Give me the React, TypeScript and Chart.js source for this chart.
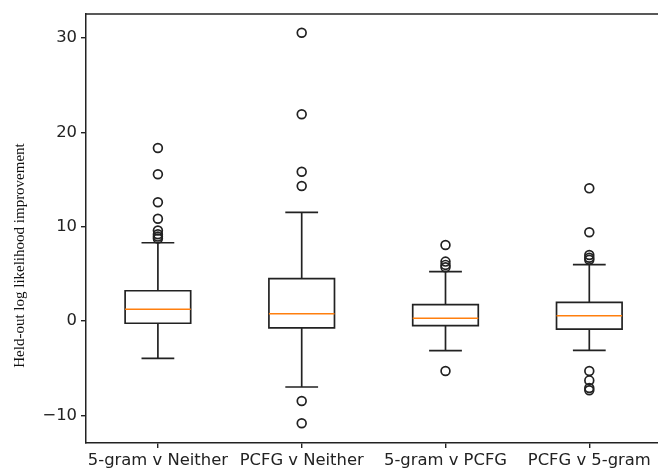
import React, { useEffect, useRef } from 'react';
import { Chart, registerables } from 'chart.js';

Chart.register(...registerables);

const categories = ['5-gram v Neither', 'PCFG v Neither', '5-gram v PCFG', 'PCFG v 5-gram'];
const positions = [1, 2, 3, 4];
const whiskerLow = [-3.96, -7.0, -3.15, -3.12];
const q1 = [-0.24, -0.73, -0.5, -0.86];
const medians = [1.24, 0.77, 0.29, 0.55];
const q3 = [3.21, 4.49, 1.73, 1.98];
const whiskerHigh = [8.3, 11.53, 5.23, 5.98];
const outliers1 = [18.35, 15.56, 12.59, 10.85, 9.6, 9.2, 8.95, 8.75];
const outliers2 = [30.57, 21.92, 15.83, 14.32, -8.48, -10.85];
const outliers3 = [8.06, 6.3, 5.95, 5.7, -5.3];
const outliers4 = [14.07, 9.41, 7.0, 6.7, 6.5, -5.3, -6.3, -7.1, -7.35];
const yTicks = [-10, 0, 10, 20, 30];
const yMin = -12.94;
const yMax = 32.56;
const yTitle = 'Held-out log likelihood improvement';

const allOutliers = [outliers1, outliers2, outliers3, outliers4];

const LINE = '#222222';

const boxPlugin = {
  id: 'boxDraw',
  beforeDatasetsDraw(chart: any) {
    const { ctx, chartArea, scales } = chart;
    const x = scales.x;
    const y = scales.y;
    ctx.save();
    ctx.beginPath();
    ctx.rect(chartArea.left, chartArea.top, chartArea.right - chartArea.left, chartArea.bottom - chartArea.top);
    ctx.clip();
    ctx.lineWidth = 1.7;
    for (let i = 0; i < positions.length; i++) {
      const cx = x.getPixelForValue(positions[i]);
      const hw = x.getPixelForValue(positions[i] + 0.228) - cx;
      const cw = hw / 2;
      const yq1 = y.getPixelForValue(q1[i]);
      const yq3 = y.getPixelForValue(q3[i]);
      const ymed = y.getPixelForValue(medians[i]);
      const ylo = y.getPixelForValue(whiskerLow[i]);
      const yhi = y.getPixelForValue(whiskerHigh[i]);
      ctx.strokeStyle = LINE;
      ctx.beginPath();
      ctx.rect(cx - hw, yq3, 2 * hw, yq1 - yq3);
      ctx.stroke();
      ctx.beginPath();
      ctx.moveTo(cx, yq1);
      ctx.lineTo(cx, ylo);
      ctx.moveTo(cx, yq3);
      ctx.lineTo(cx, yhi);
      ctx.moveTo(cx - cw, ylo);
      ctx.lineTo(cx + cw, ylo);
      ctx.moveTo(cx - cw, yhi);
      ctx.lineTo(cx + cw, yhi);
      ctx.stroke();
      ctx.strokeStyle = '#ff7f0e';
      ctx.lineWidth = 1.6;
      ctx.beginPath();
      ctx.moveTo(cx - hw, ymed);
      ctx.lineTo(cx + hw, ymed);
      ctx.stroke();
      ctx.lineWidth = 1.7;
    }
    ctx.restore();
  },
  afterDraw(chart: any) {
    const { ctx, chartArea } = chart;
    ctx.save();
    ctx.strokeStyle = LINE;
    ctx.lineWidth = 1.5;
    ctx.beginPath();
    ctx.moveTo(chartArea.left, chartArea.top);
    ctx.lineTo(chartArea.right, chartArea.top);
    ctx.stroke();
    // y-axis title
    const cy = (chartArea.top + chartArea.bottom) / 2 + 27;
    ctx.translate(20, cy);
    ctx.rotate(-Math.PI / 2);
    ctx.fillStyle = '#111';
    ctx.font = '15px "Liberation Serif", serif';
    ctx.textAlign = 'center';
    ctx.textBaseline = 'middle';
    ctx.fillText(yTitle, 0, 0);
    ctx.restore();
  },
};

export default function App() {
  const ref = useRef<HTMLCanvasElement | null>(null);
  useEffect(() => {
    if (!ref.current) return;
    const points: { x: number; y: number }[] = [];
    allOutliers.forEach((arr, i) => arr.forEach((v) => points.push({ x: positions[i], y: v })));
    const chart = new Chart(ref.current, {
      type: 'scatter',
      data: {
        datasets: [
          {
            label: 'fliers',
            data: points,
            pointRadius: 4.4,
            pointHoverRadius: 4.4,
            pointBorderWidth: 1.7,
            borderColor: LINE,
            backgroundColor: 'rgba(0,0,0,0)',
            pointStyle: 'circle',
          },
        ],
      },
      options: {
        animation: false,
        responsive: true,
        maintainAspectRatio: false,
        layout: { padding: { top: 14, left: 0, right: 38.8, bottom: 0 } },
        plugins: { legend: { display: false }, tooltip: { enabled: false } },
        events: [],
        scales: {
          x: {
            type: 'linear',
            min: 0.5,
            max: 4.5,
            afterBuildTicks: (s: any) => {
              s.ticks = positions.map((v) => ({ value: v }));
            },
            afterFit: (s: any) => {
              s.height = 29;
            },
            ticks: {
              autoSkip: false,
              maxRotation: 0,
              padding: 3,
              color: '#222',
              font: { family: 'DejaVu Sans', size: 16.4 },
              callback: (v: any) => {
                const idx = positions.indexOf(Number(v));
                return idx >= 0 ? categories[idx] : '';
              },
            },
            grid: { display: true, drawOnChartArea: false, drawTicks: true, tickLength: 5, color: LINE, lineWidth: 1.4 },
            border: { display: true, color: LINE, width: 1.5 },
          },
          y: {
            type: 'linear',
            min: yMin,
            max: yMax,
            afterBuildTicks: (s: any) => {
              s.ticks = yTicks.map((v) => ({ value: v }));
            },
            afterFit: (s: any) => {
              s.width = 86;
            },
            ticks: {
              padding: 4,
              color: '#222',
              font: { family: 'DejaVu Sans', size: 16.4 },
              callback: (v: any) => (Number(v) < 0 ? '\u2212' + Math.abs(Number(v)) : String(v)),
            },
            grid: { display: true, drawOnChartArea: false, drawTicks: true, tickLength: 5, color: LINE, lineWidth: 1.4 },
            border: { display: true, color: LINE, width: 1.5 },
          },
        },
      },
      plugins: [boxPlugin],
    });
    return () => chart.destroy();
  }, []);
  return (
    <div style={{ position: 'fixed', left: 0, top: 0, width: 658, height: 472, overflow: 'hidden', background: '#fff' }}>
      <div style={{ position: 'relative', width: 700, height: 472 }}>
        <canvas ref={ref} />
      </div>
    </div>
  );
}
